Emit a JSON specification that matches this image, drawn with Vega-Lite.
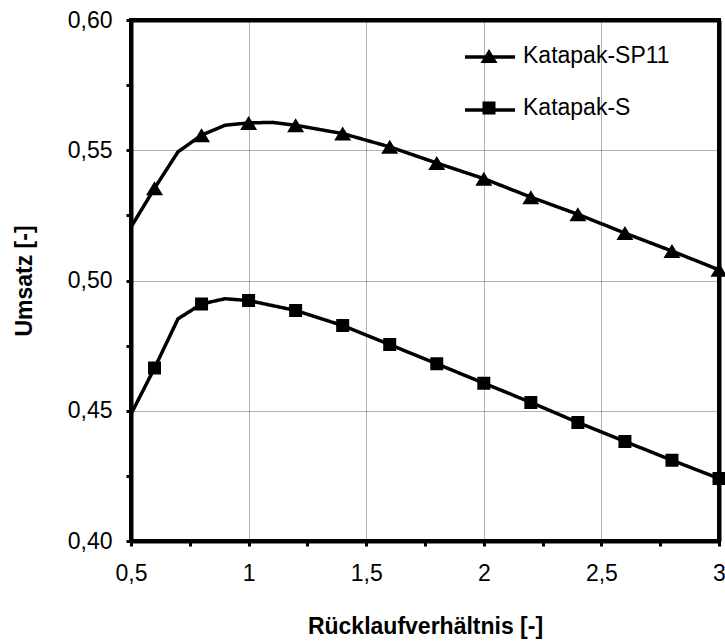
{
  "$schema": "https://vega.github.io/schema/vega-lite/v6.json",
  "width": 588,
  "height": 521,
  "autosize": {"type": "none"},
  "padding": {"left": 131, "top": 20, "right": 6, "bottom": 102},
  "background": "white",
  "config": {
    "view": {"stroke": "black", "strokeWidth": 4},
    "font": "Liberation Sans"
  },
  "data": {
    "values": [
      {"series": "Katapak-SP11", "x": 0.5, "y": 0.5205, "marker": false},
      {"series": "Katapak-SP11", "x": 0.6, "y": 0.5354, "marker": true},
      {"series": "Katapak-SP11", "x": 0.7, "y": 0.5494, "marker": false},
      {"series": "Katapak-SP11", "x": 0.8, "y": 0.5558, "marker": true},
      {"series": "Katapak-SP11", "x": 0.9, "y": 0.5596, "marker": false},
      {"series": "Katapak-SP11", "x": 1.0, "y": 0.5605, "marker": true},
      {"series": "Katapak-SP11", "x": 1.1, "y": 0.5607, "marker": false},
      {"series": "Katapak-SP11", "x": 1.2, "y": 0.5596, "marker": true},
      {"series": "Katapak-SP11", "x": 1.4, "y": 0.5564, "marker": true},
      {"series": "Katapak-SP11", "x": 1.6, "y": 0.5513, "marker": true},
      {"series": "Katapak-SP11", "x": 1.8, "y": 0.5451, "marker": true},
      {"series": "Katapak-SP11", "x": 2.0, "y": 0.5391, "marker": true},
      {"series": "Katapak-SP11", "x": 2.2, "y": 0.5320, "marker": true},
      {"series": "Katapak-SP11", "x": 2.4, "y": 0.5254, "marker": true},
      {"series": "Katapak-SP11", "x": 2.6, "y": 0.5182, "marker": true},
      {"series": "Katapak-SP11", "x": 2.8, "y": 0.5113, "marker": true},
      {"series": "Katapak-SP11", "x": 3.0, "y": 0.5041, "marker": true},
      {"series": "Katapak-S", "x": 0.5, "y": 0.4487, "marker": false},
      {"series": "Katapak-S", "x": 0.6, "y": 0.4664, "marker": true},
      {"series": "Katapak-S", "x": 0.7, "y": 0.4853, "marker": false},
      {"series": "Katapak-S", "x": 0.8, "y": 0.4910, "marker": true},
      {"series": "Katapak-S", "x": 0.9, "y": 0.4930, "marker": false},
      {"series": "Katapak-S", "x": 1.0, "y": 0.4923, "marker": true},
      {"series": "Katapak-S", "x": 1.2, "y": 0.4885, "marker": true},
      {"series": "Katapak-S", "x": 1.4, "y": 0.4827, "marker": true},
      {"series": "Katapak-S", "x": 1.6, "y": 0.4754, "marker": true},
      {"series": "Katapak-S", "x": 1.8, "y": 0.4680, "marker": true},
      {"series": "Katapak-S", "x": 2.0, "y": 0.4606, "marker": true},
      {"series": "Katapak-S", "x": 2.2, "y": 0.4532, "marker": true},
      {"series": "Katapak-S", "x": 2.4, "y": 0.4455, "marker": true},
      {"series": "Katapak-S", "x": 2.6, "y": 0.4382, "marker": true},
      {"series": "Katapak-S", "x": 2.8, "y": 0.4310, "marker": true},
      {"series": "Katapak-S", "x": 3.0, "y": 0.4240, "marker": true}
    ]
  },
  "resolve": {"axis": {"x": "independent", "y": "independent"}},
  "layer": [
    {
      "mark": {"type": "line", "color": "black", "strokeWidth": 3.5, "clip": true},
      "encoding": {
        "x": {
          "field": "x",
          "type": "quantitative",
          "scale": {"domain": [0.5, 3], "nice": false, "zero": false},
          "axis": {
            "orient": "bottom",
            "title": "Rücklaufverhältnis [-]",
            "titleFont": "Liberation Sans",
            "titleFontSize": 23,
            "titleFontWeight": "bold",
            "titleColor": "black",
            "titlePadding": 30,
            "values": [0.5, 0.75, 1, 1.25, 1.5, 1.75, 2, 2.25, 2.5, 2.75, 3],
            "labelExpr": "(round(datum.value*100) % 50 == 0) ? replace(format(datum.value, ''), '.', ',') : ''",
            "labelFont": "Liberation Sans",
            "labelFontSize": 23,
            "labelColor": "black",
            "labelPadding": 16,
            "labelFlush": false,
            "labelOverlap": false,
            "domain": true,
            "domainColor": "black",
            "domainWidth": 4,
            "ticks": true,
            "tickSize": 5,
            "tickWidth": 3,
            "tickColor": "black",
            "grid": false
          }
        },
        "y": {
          "field": "y",
          "type": "quantitative",
          "scale": {"domain": [0.4, 0.6], "nice": false, "zero": false},
          "axis": {
            "orient": "left",
            "title": "Umsatz [-]",
            "titleFont": "Liberation Sans",
            "titleFontSize": 23,
            "titleFontWeight": "bold",
            "titleColor": "black",
            "titlePadding": 31,
            "values": [0.4, 0.425, 0.45, 0.475, 0.5, 0.525, 0.55, 0.575, 0.6],
            "labelExpr": "(round(datum.value*1000) % 50 == 0) ? replace(format(datum.value, '.2f'), '.', ',') : ''",
            "labelFont": "Liberation Sans",
            "labelFontSize": 23,
            "labelColor": "black",
            "labelPadding": 14,
            "labelFlush": false,
            "labelOverlap": false,
            "domain": true,
            "domainColor": "black",
            "domainWidth": 4,
            "ticks": true,
            "tickSize": 5,
            "tickWidth": 3,
            "tickColor": "black",
            "grid": false
          }
        },
        "detail": {"field": "series"},
        "strokeDash": {
          "field": "series",
          "type": "nominal",
          "scale": {"domain": ["Katapak-S", "Katapak-SP11"], "range": [[1, 0], [1, 0]]},
          "legend": {
            "values": ["Katapak-SP11", "Katapak-S"],
            "title": null,
            "orient": "none",
            "legendX": 332,
            "legendY": 10,
            "symbolType": "stroke",
            "symbolSize": 2500,
            "symbolStrokeWidth": 3.5,
            "symbolStrokeColor": "black",
            "rowPadding": 14,
            "labelOffset": 8,
            "labelFont": "Liberation Sans",
            "labelFontSize": 23,
            "labelColor": "black",
            "labelOpacity": 0,
            "labelExpr": "' '"
          }
        }
      }
    },
    {
      "data": {
        "values": [
          {"corner": 1, "fx": 0.5, "fy": 0.4},
          {"corner": 2, "fx": 3, "fy": 0.4},
          {"corner": 3, "fx": 3, "fy": 0.6},
          {"corner": 4, "fx": 0.5, "fy": 0.6},
          {"corner": 5, "fx": 0.5, "fy": 0.4}
        ]
      },
      "mark": {"type": "line", "color": "black", "strokeWidth": 4, "strokeCap": "square", "strokeJoin": "miter", "clip": false},
      "encoding": {
        "x": {"field": "fx", "type": "quantitative", "axis": null},
        "y": {"field": "fy", "type": "quantitative", "axis": null},
        "order": {"field": "corner", "type": "quantitative"}
      }
    },
    {
      "transform": [{"filter": "datum.marker"}],
      "mark": {"type": "point", "filled": true, "color": "black", "opacity": 1, "size": 2500},
      "encoding": {
        "x": {
          "field": "x",
          "type": "quantitative",
          "axis": {
            "orient": "top",
            "title": null,
            "values": [0.5, 1, 1.5, 2, 2.5, 3],
            "labels": false,
            "ticks": true,
            "tickSize": 5,
            "tickOpacity": 0,
            "domain": true,
            "domainColor": "black",
            "domainWidth": 4,
            "grid": true,
            "gridColor": "#666666",
            "gridDash": [1, 1],
            "gridWidth": 1
          }
        },
        "y": {
          "field": "y",
          "type": "quantitative",
          "axis": {
            "orient": "right",
            "title": null,
            "values": [0.4, 0.45, 0.5, 0.55, 0.6],
            "labels": false,
            "ticks": true,
            "tickSize": 5,
            "tickOpacity": 0,
            "domain": true,
            "domainColor": "black",
            "domainWidth": 4,
            "grid": true,
            "gridColor": "#666666",
            "gridDash": [1, 1],
            "gridWidth": 1
          }
        },
        "shape": {
          "field": "series",
          "type": "nominal",
          "scale": {
            "domain": ["Katapak-SP11", "Katapak-S"],
            "range": ["M-1,0H1M-0.34,0.28L0,-0.28L0.34,0.28Z", "M-1,0H1M-0.26,-0.26H0.26V0.26H-0.26Z"]
          },
          "legend": {
            "title": null,
            "orient": "none",
            "legendX": 332,
            "legendY": 10,
            "symbolSize": 2500,
            "rowPadding": 14,
            "labelOffset": 8,
            "labelFont": "Liberation Sans",
            "labelFontSize": 23,
            "labelColor": "black"
          }
        }
      }
    }
  ]
}
